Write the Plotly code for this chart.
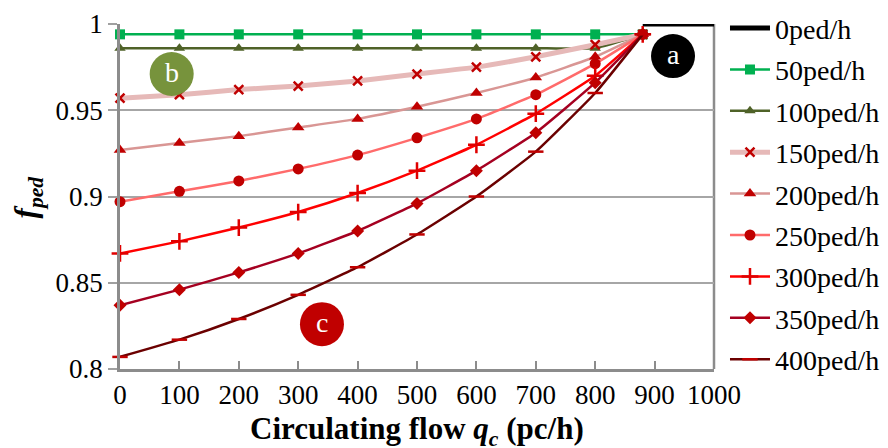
import plotly.graph_objects as go

# ---- data ----
q = [0, 100, 200, 300, 400, 500, 600, 700, 800, 880]
q0 = [880, 1000]
f0 = [1.0, 1.0]
f50 = [0.994, 0.994, 0.994, 0.994, 0.994, 0.994, 0.994, 0.994, 0.994, 0.994]
f100 = [0.986, 0.986, 0.986, 0.986, 0.986, 0.986, 0.986, 0.986, 0.986, 0.994]
f150 = [0.957, 0.959, 0.962, 0.964, 0.967, 0.971, 0.975, 0.981, 0.988, 0.994]
f200 = [0.927, 0.931, 0.935, 0.940, 0.945, 0.952, 0.960, 0.969, 0.981, 0.994]
f250 = [0.897, 0.903, 0.909, 0.916, 0.924, 0.934, 0.945, 0.959, 0.977, 0.994]
f300 = [0.867, 0.874, 0.882, 0.891, 0.902, 0.915, 0.930, 0.948, 0.970, 0.994]
f350 = [0.837, 0.846, 0.856, 0.867, 0.880, 0.896, 0.915, 0.937, 0.966, 0.994]
f400 = [0.807, 0.817, 0.829, 0.843, 0.859, 0.878, 0.900, 0.926, 0.960, 0.994]

series_names = ["0ped/h", "50ped/h", "100ped/h", "150ped/h", "200ped/h",
                "250ped/h", "300ped/h", "350ped/h", "400ped/h"]
x_ticks = [0, 100, 200, 300, 400, 500, 600, 700, 800, 900, 1000]
y_ticks = [0.8, 0.85, 0.9, 0.95, 1.0]
y_ticktext = ["0.8", "0.85", "0.9", "0.95", "1"]

# bubbles: label, q, f, colour
bubble_labels = ["a", "b", "c"]
bubble_q = [931, 87, 340]
bubble_f = [0.9814, 0.971, 0.826]
bubble_colors = ["#000000", "#77933C", "#C00000"]

FONT = "Liberation Serif"

styles = [
    # (line colour, line width, marker symbol, marker colour, marker size)
    ("#000000", 5, None, None, 0),
    ("#00B050", 2.5, "square", "#00B050", 10),
    ("#4F6228", 2.5, "triangle-up", "#4F6228", 10),
    ("#E6B9B8", 5, "x-thin", "#C00000", 9),
    ("#D99694", 2.5, "triangle-up", "#C00000", 11),
    ("#FF6B6B", 2.5, "circle", "#C00000", 11),
    ("#FF0000", 2.5, "cross-thin", "#E00000", 12),
    ("#A50021", 2.5, "diamond", "#C00000", 10),
    ("#6B0000", 2.5, "line-ew", "#C00000", 11),
]
data_y = [f0, f50, f100, f150, f200, f250, f300, f350, f400]

fig = go.Figure()
for i, (name, y) in enumerate(zip(series_names, data_y)):
    lc, lw, sym, mc, ms = styles[i]
    xs = q0 if i == 0 else q
    if sym is None:
        fig.add_trace(go.Scatter(x=xs, y=y, name=name, mode="lines",
                                 line=dict(color=lc, width=lw),
                                 cliponaxis=False, legendgroup=name))
    else:
        mline = dict(color=mc, width=2.5) if sym in ("x-thin", "cross-thin", "line-ew") else dict(width=0)
        fig.add_trace(go.Scatter(x=xs, y=y, name=name, mode="lines+markers",
                                 line=dict(color=lc, width=lw, shape="spline", smoothing=0.4),
                                 marker=dict(symbol=sym, color=mc, size=ms, line=mline),
                                 cliponaxis=False, legendgroup=name))

for lab, bx, by, bc in zip(bubble_labels, bubble_q, bubble_f, bubble_colors):
    fig.add_shape(type="circle", xref="x", yref="y", xsizemode="pixel", ysizemode="pixel",
                  xanchor=bx, yanchor=by, x0=-22, x1=22, y0=-22, y1=22,
                  fillcolor=bc, line=dict(width=0), layer="above")
    fig.add_annotation(x=bx, y=by, xref="x", yref="y", text=lab, showarrow=False,
                       font=dict(family=FONT, size=28, color="white"), yshift=2)

# axis titles as annotations for exact placement
fig.add_annotation(x=0.5, y=-0.18, xref="paper", yref="paper", showarrow=False,
                   xanchor="center", yanchor="middle",
                   text="<b>Circulating flow <i>q</i><sub><i>c</i></sub> (pc/h)</b>",
                   font=dict(family=FONT, size=31, color="black"))
fig.add_annotation(x=-0.155, y=0.5, xref="paper", yref="paper", showarrow=False,
                   xanchor="center", yanchor="middle", textangle=-90,
                   text="<b><i>f</i><sub><i>ped</i></sub></b>",
                   font=dict(family=FONT, size=31, color="black"))

fig.update_layout(
    width=880, height=440,
    margin=dict(l=112, r=174, t=16, b=79, autoexpand=False),
    plot_bgcolor="white", paper_bgcolor="white",
    font=dict(family=FONT, size=27, color="black"),
    showlegend=True,
    legend=dict(x=1.0185, y=1.06, xanchor="left", yanchor="top",
                font=dict(family=FONT, size=28, color="black"),
                bgcolor="rgba(0,0,0,0)", tracegroupgap=2, itemwidth=40,
                maxheight=446),
)
fig.update_xaxes(range=[0, 1000], tickvals=x_ticks, ticks="inside", ticklen=8,
                 tickcolor="#8C8C8C", tickwidth=2,
                 showline=True, linecolor="#8C8C8C", linewidth=2.5, mirror=False,
                 showgrid=False, zeroline=False,
                 tickfont=dict(family=FONT, size=27, color="black"))
fig.update_yaxes(range=[0.8, 1.0], tickvals=y_ticks, ticktext=y_ticktext,
                 ticks="outside", ticklen=9, tickcolor="#A0A0A0", tickwidth=2,
                 showline=True, linecolor="#8C8C8C", linewidth=2.5, mirror=False,
                 showgrid=True, gridcolor="#A6A6A6", gridwidth=2, zeroline=False,
                 tickfont=dict(family=FONT, size=27, color="black"))
# right border line of the plot area
fig.add_shape(type="line", xref="paper", yref="paper", x0=1, x1=1, y0=0, y1=1,
              line=dict(color="#8C8C8C", width=2.5), layer="below")

fig.write_html("out.html")
